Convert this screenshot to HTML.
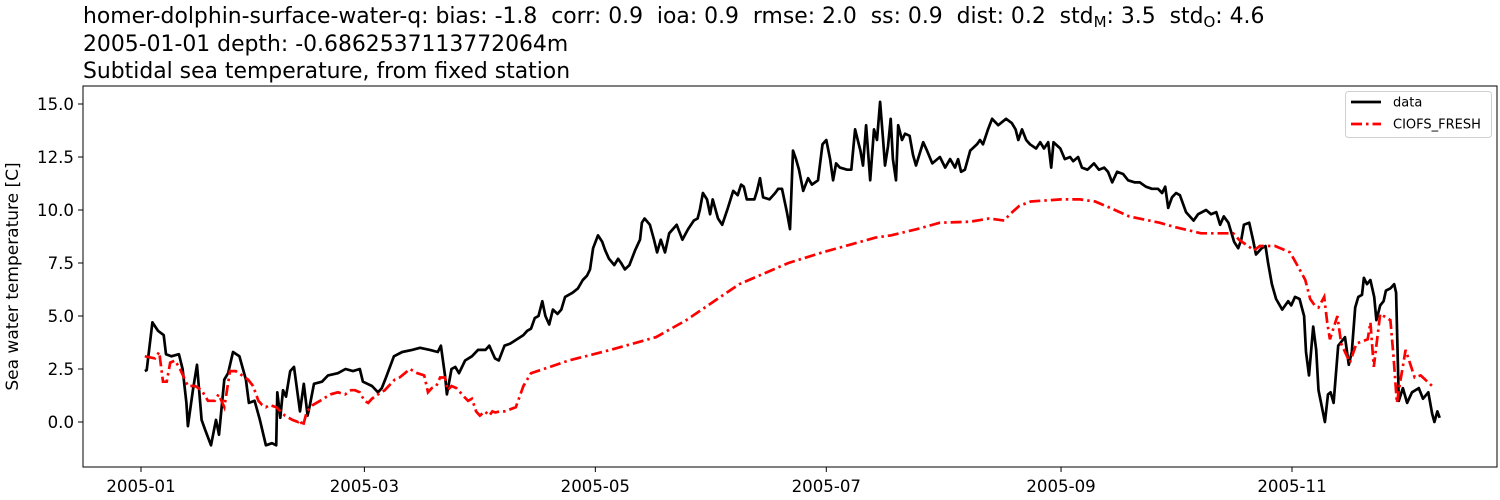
<!DOCTYPE html>
<html><head><meta charset="utf-8">
<style>
body{margin:0;background:#fff;width:1500px;height:500px;overflow:hidden;font-family:"DejaVu Sans","Liberation Sans",sans-serif;}
.t{position:absolute;left:83px;font-size:21.9px;color:#000;white-space:nowrap;line-height:26px}
sub{font-size:15px;vertical-align:-4px;line-height:0}
svg{position:absolute;left:0;top:0}
</style></head><body>
<div class="t" style="top:4px">homer-dolphin-surface-water-q: bias: -1.8&nbsp; corr: 0.9&nbsp; ioa: 0.9&nbsp; rmse: 2.0&nbsp; ss: 0.9&nbsp; dist: 0.2&nbsp; std<sub>M</sub>: 3.5&nbsp; std<sub>O</sub>: 4.6</div>
<div class="t" style="top:32px">2005-01-01 depth: -0.6862537113772064m</div>
<div class="t" style="top:59px">Subtidal sea temperature, from fixed station</div>
<svg id="chart" width="1500" height="500"></svg>
<script>
const xTickLabels=["2005-01","2005-03","2005-05","2005-07","2005-09","2005-11"];
const xTickDays=[0,59,120,181,243,304];
const yTickValues=[0,2.5,5,7.5,10,12.5,15];
const dataDays=[1,1.5,3,4.5,6,6.6,8,10,11,12,12.4,13.7,14.8,16,17,18.5,19.8,20.6,22,23,24.3,26,27.7,28.5,30,31.4,33,34.6,35.7,36,36.8,37.5,38.3,39.4,40.4,42,43,44,44.6,45.7,47.8,49.4,52,54,56,57.8,58.6,61,62.6,63.6,64.7,66.8,69,71.6,73.7,76.3,78.4,79.2,80.3,80.8,82,83,84,85.6,87.4,89,91,92,93.5,94.5,96,97.5,101,102,103,104,105,106,106.8,107.8,108.8,110,111,112,114,115.4,116.7,117.8,118.6,119.4,120.7,121.8,122.6,123.6,125,126,126.8,127.8,129,130.5,131.8,132.3,133,134.4,135.5,136.3,137.3,138.4,139.5,141.5,143,144.5,146,147,147.6,148.4,149.5,150.3,151,152.4,153.5,155,156.4,157.6,158.5,159.2,160,162,162.7,163.5,164.3,166,167.5,168.3,169.3,170.6,171.4,172.2,173,173.8,174.9,176.2,177.2,178.8,180,181,182,182.8,183.6,184.6,186.5,187.6,188.6,190,190.7,191.5,192.6,193.6,194.4,195.2,196,196.5,197.3,198,198.6,199.4,200,201,201.8,203,203.9,204.7,206.6,207.6,209,211,212.4,213.7,215,215.8,216.6,217.6,219,220.8,221.6,222.4,223.7,224.8,226.4,228.5,230,231,231.7,232.7,233.8,234.8,236.4,237.5,238.5,239.6,240.4,241,242.8,244,245.4,246.2,247.5,248.5,250,251.7,253,254.4,255.4,256.5,257.8,259.4,260.7,262.5,263.8,265.4,267,268.6,269.7,270.5,271.3,272.3,273.4,274.4,276,278,279.2,281.3,282.6,284,285,286,287.2,288.7,289.8,290.6,291.3,292.7,293.7,294.5,296,297,297.7,298.7,299.8,301.4,302.2,303,303.8,304.8,306,306.6,307.2,307.7,308.5,309.6,310.4,311,312.7,313.5,314.2,315,316.2,318,319,319.8,320.7,321.5,322.5,323,323.8,324.7,325.7,326.3,327.3,328.2,328.8,330,331,331.5,332.2,333.3,334.4,335.7,337.5,338.6,340,341,341.6,342.4,343];
const dataVals=[2.4,2.45,4.7,4.3,4.1,3.2,3.1,3.2,2.5,0.9,-0.2,1.5,2.7,0.1,-0.4,-1.1,0.1,-0.6,2.0,2.3,3.3,3.1,2.0,0.9,1.0,0.1,-1.1,-1.0,-1.1,1.4,0.2,1.5,1.2,2.4,2.6,0.5,1.8,0.3,0.8,1.8,1.9,2.2,2.3,2.5,2.4,2.5,1.9,1.7,1.4,1.6,2.1,3.1,3.3,3.4,3.5,3.4,3.3,3.6,2.2,1.3,2.5,2.6,2.3,2.9,3.1,3.4,3.4,3.6,3.0,2.9,3.6,3.7,4.1,4.3,4.4,4.9,5.0,5.7,5.0,4.6,5.3,5.1,5.3,5.9,6.1,6.3,6.7,6.9,7.2,8.2,8.8,8.5,8.1,7.7,7.4,7.7,7.5,7.2,7.4,8.1,8.6,9.4,9.6,9.3,8.6,8.0,8.6,8.0,8.9,9.3,8.6,9.1,9.5,9.6,10.0,10.8,10.5,9.8,10.5,9.6,9.3,10.1,10.9,10.7,11.2,11.1,10.5,10.5,10.9,11.5,10.6,10.5,10.8,11.0,11.0,9.9,9.1,12.8,12.4,11.9,10.9,11.5,11.2,11.4,13.1,13.3,12.4,11.4,12.2,12.0,11.9,11.9,13.8,12.8,12.1,14.0,11.4,13.8,13.3,15.1,13.3,12.1,13.0,14.3,12.4,11.4,14.0,13.3,13.6,13.5,12.6,12.1,13.2,12.8,12.2,12.5,12.0,12.4,12.0,12.4,11.8,11.9,12.8,13.1,13.3,13.1,13.8,14.3,14.0,14.3,14.1,13.8,13.3,13.8,13.3,13.1,12.9,13.2,12.9,13.2,12.0,13.2,12.9,12.4,12.5,12.3,12.5,12.0,11.9,12.2,11.9,12.0,11.8,11.3,11.8,11.7,11.4,11.3,11.3,11.1,11.0,11.0,10.8,11.1,10.1,10.6,10.8,10.7,9.9,9.5,9.8,10.0,9.8,9.9,9.3,9.7,9.4,8.5,8.2,8.6,9.3,9.4,8.6,7.9,8.2,8.3,7.5,6.5,5.8,5.3,5.5,5.7,5.5,5.9,5.8,5.4,5.0,3.3,2.2,4.5,3.4,1.5,0.0,1.3,1.4,0.9,3.6,4.0,2.7,3.3,5.4,5.9,6.0,6.8,6.5,6.7,5.9,4.8,5.5,5.7,6.2,6.3,6.5,6.1,1.0,1.6,0.9,1.4,1.6,1.1,1.4,0.4,0.0,0.5,0.2];
const modelDays=[1,3.7,4.8,5.8,6.8,7.7,9,10.3,12.4,14.3,16,17.7,19.5,20.5,22,23.5,25,26.7,28.3,29.6,31,32,33,34,35.7,38,40,41.5,42,42.8,43.8,45.4,47.3,50,52,53.9,55.5,56.5,57.8,59,60,61,62.6,64.4,67,68.3,69.7,71,73,74.8,75.8,76.8,78,79,80.3,81,82,83.3,84.3,85.3,86.4,87.4,88.5,89.5,90.8,92,92.8,93.6,94.8,96,97.5,99,101,103,108,113,124,136,144,158,171,180,188,194,198,205,211,219,224,228,229.5,232,235,243,248,252,256,261,269,273,280,285,288.5,290,294,295.5,299.5,303.5,306,307.5,308.8,310,311,312.5,313.3,314,316,317,319.3,321,324,324.7,325.6,327.3,330,330.8,331.7,332.5,334,336.4,338,341];
const modelVals=[3.1,3.0,3.3,1.9,1.9,2.8,2.9,2.5,1.7,1.7,1.5,1.0,1.0,1.3,0.7,2.4,2.4,2.2,2.0,1.7,1.0,0.8,0.7,0.8,0.7,0.3,0.1,0.0,0.1,-0.2,0.5,0.8,1.0,1.3,1.4,1.3,1.5,1.5,1.4,1.0,0.9,1.1,1.3,1.5,2.0,2.1,2.3,2.5,2.3,2.2,1.4,1.6,1.7,2.1,2.1,1.5,1.7,1.6,1.4,1.2,1.0,1.1,0.5,0.3,0.5,0.3,0.5,0.45,0.5,0.5,0.6,0.7,1.7,2.3,2.6,2.9,3.4,4.0,4.8,6.5,7.5,8.0,8.4,8.7,8.8,9.1,9.4,9.45,9.6,9.5,9.8,10.2,10.4,10.5,10.5,10.4,10.1,9.7,9.4,9.2,8.9,8.9,8.9,8.6,8.1,8.3,8.3,8.0,7.2,6.7,5.8,5.5,5.4,5.9,4.7,3.9,5.0,3.7,2.8,3.7,3.9,4.7,2.6,5.1,4.8,3.1,0.9,1.8,3.4,2.1,2.2,1.7];

const svg=document.getElementById('chart');
const NS='http://www.w3.org/2000/svg';
const FF='DejaVu Sans, Liberation Sans, sans-serif';
const L=83,R=1497,T=86,B=467;
const x=d=>141+d*(1151/304);
const y=v=>422-v*(318/15);
function mk(tag,attrs){const e=document.createElementNS(NS,tag);for(const k in attrs)e.setAttribute(k,attrs[k]);svg.appendChild(e);return e;}

const frame=mk('rect',{x:L,y:T,width:R-L,height:B-T,fill:'none',stroke:'#000','stroke-width':1});



yTickValues.forEach(v=>{
  const tk=mk('line',{x1:L-5,x2:L,y1:y(v),y2:y(v),stroke:'#000','stroke-width':1});
  
  
  const t=mk('text',{x:L-9,y:y(v)+6,'text-anchor':'end','font-size':16.6,'font-family':FF});
  t.textContent=v.toFixed(1);
  
  
});
xTickDays.forEach((d,i)=>{
  const tk=mk('line',{x1:x(d),x2:x(d),y1:B,y2:B+5,stroke:'#000','stroke-width':1});
  
  
  const t=mk('text',{x:x(d),y:B+25,'text-anchor':'middle','font-size':16.6,'font-family':FF});
  t.textContent=xTickLabels[i];
  
  
});
const yl=mk('text',{x:0,y:0,transform:'translate(18,'+((T+B)/2)+') rotate(-90)','text-anchor':'middle','font-size':17,'font-family':FF});
yl.textContent='Sea water temperature [C]';



function pts(ds,vs){return ds.map((d,i)=>x(d).toFixed(1)+','+y(vs[i]).toFixed(1)).join(' ');}
const dl=mk('polyline',{points:pts(dataDays,dataVals),fill:'none',stroke:'#000','stroke-width':2.7,'stroke-linejoin':'round'});


const ml=mk('polyline',{points:pts(modelDays,modelVals),fill:'none',stroke:'#ff0000','stroke-width':2.7,'stroke-dasharray':'11,4,2.5,4'});



const lg=mk('rect',{x:1345.5,y:91.5,width:146,height:46,rx:3,fill:'#fff',stroke:'#ccc','stroke-width':1,opacity:0.9});


const l1=mk('line',{x1:1351,x2:1381,y1:102,y2:102,stroke:'#000','stroke-width':2.7});


const t1=mk('text',{x:1393,y:106.5,'font-size':13,'font-family':FF});
t1.textContent='data';


const l2=mk('line',{x1:1351,x2:1381,y1:124,y2:124,stroke:'#ff0000','stroke-width':2.7,'stroke-dasharray':'11,4,2.5,4'});


const t2=mk('text',{x:1393,y:128.5,'font-size':13,'font-family':FF});
t2.textContent='CIOFS_FRESH';


</script>
</body></html>
